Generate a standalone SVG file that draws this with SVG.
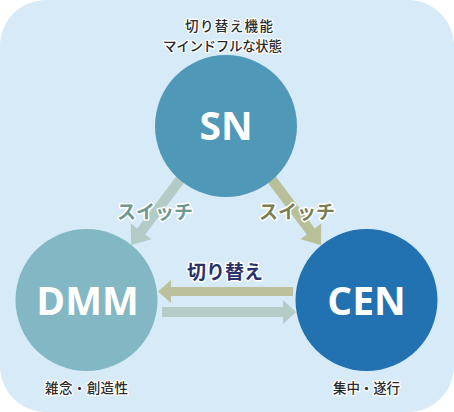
<svg xmlns="http://www.w3.org/2000/svg" width="454" height="412" viewBox="0 0 454 412">
  <style>
    .node-label { font-family: "Open Sans", "Noto Sans", sans-serif; font-weight: 700; font-size: 39px; fill: #ffffff; text-anchor: middle; }
    .note { font-family: "Noto Sans CJK JP", sans-serif; font-weight: 500; font-size: 13.5px; fill: #2b2b2b; stroke: #ffffff; stroke-width: 2.5px; stroke-linejoin: round; paint-order: stroke; }
    .edge-label { font-family: "Noto Sans CJK JP", sans-serif; font-weight: 700; font-size: 19px; text-anchor: middle; stroke: #ffffff; stroke-width: 3px; stroke-linejoin: round; paint-order: stroke; }
  </style>
  <rect x="0" y="0" width="454" height="412" fill="#ffffff"/>
  <rect id="background" x="0" y="0" width="454" height="412" rx="46" ry="46" fill="#d6eaf7"/>

  <g id="connectors">
    <polygon id="sn-dmm" fill="#b3cbc5" points="185.2,164.4 193.2,170.4 145.2,234.4 151.6,239.2 131,245 130.8,223.6 137.2,228.4"/>
    <polygon id="sn-cen" fill="#b9bf98" points="266.8,164.4 258.8,170.4 306.8,234.4 300.4,239.2 321,245 321.2,223.6 314.8,228.4"/>
    <polygon id="cen-dmm" fill="#bcc19c" points="293,287 171,287 171,280 158,291.5 171,303 171,296 293,296"/>
    <polygon id="dmm-cen" fill="#b3ccc7" points="162,307 283,307 283,300 296,312 283,324 283,317 162,317"/>
    <text class="edge-label" x="155" y="218.5" fill="#6e978d">スイッチ</text>
    <text class="edge-label" x="297" y="218.5" fill="#7a7e52">スイッチ</text>
    <text class="edge-label" x="225" y="278.5" fill="#2a3168">切り替え</text>
  </g>

  <g id="SN">
    <circle cx="226" cy="126" r="71" fill="#4f98b8"/>
    <text class="node-label" x="226" y="140">SN</text>
    <text class="note" x="185" y="31.3" textLength="88">切り替え機能</text>
    <text class="note" x="163" y="50.7" textLength="119">マインドフルな状態</text>
  </g>

  <g id="DMM">
    <circle cx="86.5" cy="300" r="71" fill="#84b7c4"/>
    <text class="node-label" x="87.5" y="315">DMM</text>
    <text class="note" x="45" y="392.5" textLength="83">雑念・創造性</text>
  </g>

  <g id="CEN">
    <circle cx="366.5" cy="300" r="71" fill="#2272b2"/>
    <text class="node-label" x="366.5" y="315">CEN</text>
    <text class="note" x="333" y="392.5" textLength="67">集中・遂行</text>
  </g>
</svg>
